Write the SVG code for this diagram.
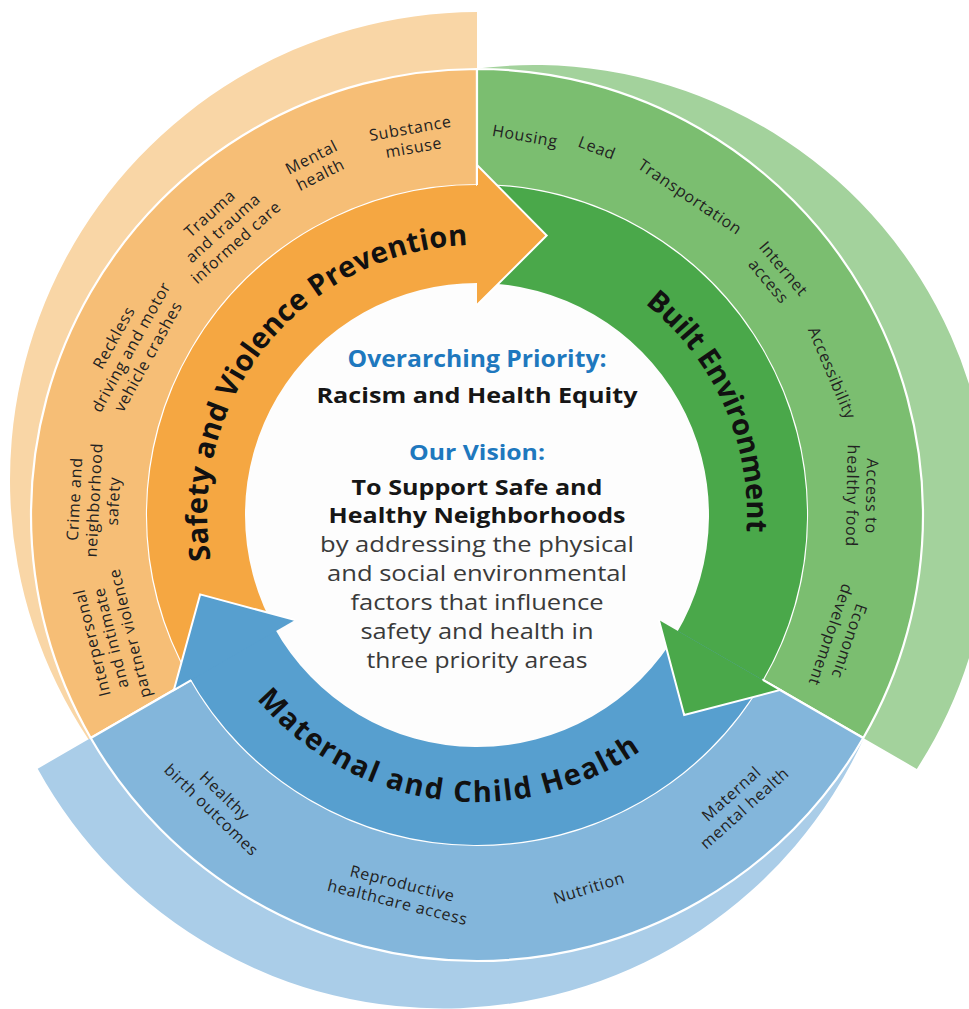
<svg xmlns="http://www.w3.org/2000/svg" width="969" height="1009" viewBox="0 0 969 1009">
<style>
.mid{stroke:#fff;stroke-width:2.2;stroke-linejoin:round}
.edge{fill:none;stroke:#fff;stroke-width:2;stroke-linejoin:miter}
.lbl{font-family:'Open Sans','Liberation Sans',sans-serif;font-size:16px;fill:#222;text-anchor:middle;letter-spacing:0.7px}
.ttl{font-family:'Open Sans','Liberation Sans',sans-serif;font-size:29px;font-weight:700;fill:#111}
.ct{font-family:'Open Sans','Liberation Sans',sans-serif;text-anchor:middle}
.hb{font-size:23px;font-weight:700;fill:#1e78be}
.bk{font-size:22px;font-weight:700;fill:#161616}
.bd{font-size:22.5px;font-weight:400;fill:#3a3a3a}
</style>
<defs>
<path id="tp-o" d="M 224.51 610.66 A 270 270 0 0 1 520.40 248.51"/>
<path id="tp-g" d="M 505.22 246.48 A 270 270 0 0 1 695.43 673.70"/>
<path id="tp-b" d="M 211.85 624.83 A 287 287 0 0 0 704.69 689.71"/>
</defs>
<rect width="969" height="1009" fill="#fff"/>

<g id="center">
<circle cx="477" cy="515" r="233" fill="#fdfdfd"/>
<text class="ct hb" x="477" y="367" textLength="259" lengthAdjust="spacingAndGlyphs">Overarching Priority:</text>
<text class="ct bk" x="477" y="403" textLength="321" lengthAdjust="spacingAndGlyphs">Racism and Health Equity</text>
<text class="ct hb" x="477" y="460" textLength="136" lengthAdjust="spacingAndGlyphs" style="font-size:22px">Our Vision:</text>
<text class="ct bk" x="477" y="495" textLength="251" lengthAdjust="spacingAndGlyphs">To Support Safe and</text>
<text class="ct bk" x="477" y="523" textLength="297" lengthAdjust="spacingAndGlyphs">Healthy Neighborhoods</text>
<text class="ct bd" x="477" y="552" textLength="314" lengthAdjust="spacingAndGlyphs">by addressing the physical</text>
<text class="ct bd" x="477" y="581" textLength="300" lengthAdjust="spacingAndGlyphs">and social environmental</text>
<text class="ct bd" x="477" y="610" textLength="253" lengthAdjust="spacingAndGlyphs">factors that influence</text>
<text class="ct bd" x="477" y="639" textLength="233" lengthAdjust="spacingAndGlyphs">safety and health in</text>
<text class="ct bd" x="477" y="668" textLength="221" lengthAdjust="spacingAndGlyphs">three priority areas</text>
</g>

<g id="safety-violence-prevention">
<path d="M 477 12 A 468 468 0 0 0 88.4 739.3 L 90.75 738 A 446 446 0 0 1 477 69 Z" fill="#f9d6a6"/>
<path class="mid" d="M 90.75 738 A 446 446 0 0 1 477 69 L 477 185 A 330 330 0 0 0 191.21 680 Z" fill="#f6be76"/>
<path d="M 191.21 680 A 330 330 0 0 1 482.76 185.05 L 481.05 283.04 A 232 232 0 0 0 276.08 631 Z" fill="#f5a742"/>
<text class="ttl"><textPath href="#tp-o" startOffset="50%" text-anchor="middle" style="letter-spacing:0.3px">Safety and Violence Prevention</textPath></text>
<text class="lbl" transform="translate(412,138) rotate(-10)"><tspan x="0" y="-4.25">Substance</tspan><tspan x="0" y="15.25">misuse</tspan></text>
<text class="lbl" transform="translate(316,166) rotate(-27)"><tspan x="0" y="-4.25">Mental</tspan><tspan x="0" y="15.25">health</tspan></text>
<text class="lbl" transform="translate(223,228) rotate(-42)"><tspan x="0" y="-14">Trauma</tspan><tspan x="0" y="5.5">and trauma</tspan><tspan x="0" y="25">informed care</tspan></text>
<text class="lbl" transform="translate(131,347) rotate(-61)"><tspan x="0" y="-14">Reckless</tspan><tspan x="0" y="5.5">driving and motor</tspan><tspan x="0" y="25">vehicle crashes</tspan></text>
<text class="lbl" transform="translate(94,500) rotate(-87)"><tspan x="0" y="-14">Crime and</tspan><tspan x="0" y="5.5">neighborhood</tspan><tspan x="0" y="25">safety</tspan></text>
<text class="lbl" transform="translate(111,638) rotate(-104)"><tspan x="0" y="-14">Interpersonal</tspan><tspan x="0" y="5.5">and intimate</tspan><tspan x="0" y="25">partner violence</tspan></text>
</g>

<g id="built-environment">
<path d="M 477 68.6 A 456 456 0 0 1 916.8 768.9 L 863.25 738 A 446 446 0 0 0 477 69 Z" fill="#a3d29c"/>
<path class="mid" d="M 477 69 A 446 446 0 0 1 863.25 738 L 762.79 680 A 330 330 0 0 0 477 185 Z" fill="#7bbe70"/>
<path d="M 477 185 A 330 330 0 0 1 759.87 684.96 L 675.86 634.49 A 232 232 0 0 0 477 283 Z" fill="#4aa84a"/>
<text class="ttl"><textPath href="#tp-g" startOffset="50%" text-anchor="middle" style="letter-spacing:-0.3px">Built Environment</textPath></text>
<text class="lbl" transform="translate(525,136) rotate(10)"><tspan x="0" y="5.5">Housing</tspan></text>
<text class="lbl" transform="translate(597,148) rotate(21)"><tspan x="0" y="5.5">Lead</tspan></text>
<text class="lbl" transform="translate(690,197) rotate(34)"><tspan x="0" y="5.5">Transportation</tspan></text>
<text class="lbl" transform="translate(776,275) rotate(50)"><tspan x="0" y="-4.25">Internet</tspan><tspan x="0" y="15.25">access</tspan></text>
<text class="lbl" transform="translate(832,373) rotate(67)"><tspan x="0" y="5.5">Accessibility</tspan></text>
<text class="lbl" transform="translate(862,496) rotate(91)"><tspan x="0" y="-4.25">Access to</tspan><tspan x="0" y="15.25">healthy food</tspan></text>
<text class="lbl" transform="translate(840,638) rotate(109)"><tspan x="0" y="-4.25">Economic</tspan><tspan x="0" y="15.25">development</tspan></text>
</g>

<g id="maternal-child-health">
<path d="M 863.7 738.2 A 462.5 462.5 0 0 1 37.7 768.7 L 90.75 738 A 446 446 0 0 0 863.25 738 Z" fill="#aacde8"/>
<path class="mid" d="M 863.25 738 A 446 446 0 0 1 90.75 738 L 191.21 680 A 330 330 0 0 0 762.79 680 Z" fill="#83b6db"/>
<path d="M 762.79 680 A 330 330 0 0 1 188.38 674.99 L 274.09 627.48 A 232 232 0 0 0 677.92 631 Z" fill="#579fcf"/>
<text class="ttl"><textPath href="#tp-b" startOffset="50%" text-anchor="middle" style="letter-spacing:1.8px">Maternal and Child Health</textPath></text>
<text class="lbl" transform="translate(218,803) rotate(44)"><tspan x="0" y="-4.25">Healthy</tspan><tspan x="0" y="15.25">birth outcomes</tspan></text>
<text class="lbl" transform="translate(400,893) rotate(14)"><tspan x="0" y="-4.25">Reproductive</tspan><tspan x="0" y="15.25">healthcare access</tspan></text>
<text class="lbl" transform="translate(589,888) rotate(-17)"><tspan x="0" y="5.5">Nutrition</tspan></text>
<text class="lbl" transform="translate(738,801) rotate(-42)"><tspan x="0" y="-4.25">Maternal</tspan><tspan x="0" y="15.25">mental health</tspan></text>
</g>

<g id="connectors">
<path d="M 477 165 L 546.67 235.55 L 477 305 Z" fill="#f5a742"/>
<path class="edge" d="M 477 185 L 477 165 L 546.67 235.55 L 477 305"/>
<path d="M 780.11 690 L 684.17 715.06 L 658.87 620 Z" fill="#4aa84a"/>
<path class="edge" d="M 762.79 680 L 780.11 690 L 684.17 715.06 L 658.87 620"/>
<path d="M 173.89 690 L 200.16 594.38 L 295.13 620 Z" fill="#579fcf"/>
<path class="edge" d="M 191.21 680 L 173.89 690 L 200.16 594.38 L 295.13 620"/>
</g>
</svg>
